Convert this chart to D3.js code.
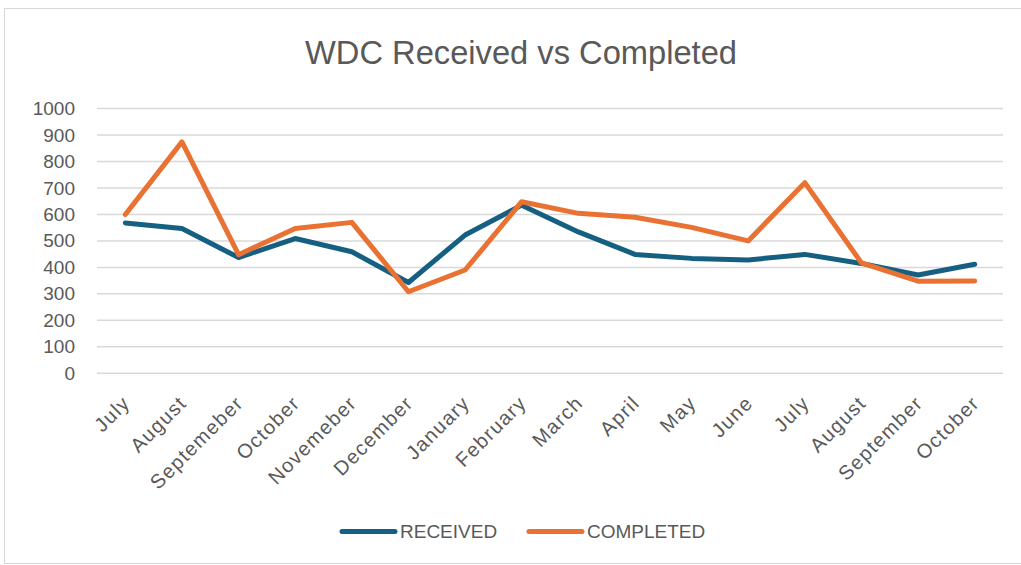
<!DOCTYPE html>
<html>
<head>
<meta charset="utf-8">
<script src="https://cdn.jsdelivr.net/npm/d3@7"></script>
<style>
  body { margin: 0; background: #fff; }
  text { font-family: "Liberation Sans", Arial, sans-serif; fill: #595959; }
</style>
</head>
<body>
<div id="chart"></div>
<script>
const months = ["July", "August", "Septemeber", "October", "Novemeber", "December", "January",
  "February", "March", "April", "May", "June", "July", "August", "September", "October"];
const received = [568, 547, 437, 509, 459, 343, 522, 635, 534, 449, 434, 428, 449, 415, 371, 412];
const completed = [600, 874, 448, 547, 570, 308, 390, 648, 604, 589, 551, 500, 720, 417, 348, 349];
const yTicks = [0, 100, 200, 300, 400, 500, 600, 700, 800, 900, 1000];

const width = 1021, height = 565;
const margin = { left: 97, right: 18, top: 108.5, bottom: 192 };

const svg = d3.select("#chart").append("svg")
  .attr("width", width)
  .attr("height", height);

svg.append("rect")
  .attr("x", 4.5).attr("y", 8.5)
  .attr("width", width).attr("height", height - 10)
  .attr("fill", "#fff")
  .attr("stroke", "#d9d9d9");

svg.append("text")
  .attr("x", 305).attr("y", 64)
  .attr("textLength", 432)
  .attr("lengthAdjust", "spacingAndGlyphs")
  .style("font-size", "34px")
  .text("WDC Received vs Completed");

const idx = months.map((m, i) => i);
const x = d3.scaleBand().domain(idx).range([margin.left, width - margin.right]);
const y = d3.scaleLinear().domain([0, 1000]).range([height - margin.bottom + 0.3, margin.top]);

// gridlines
svg.append("g").selectAll("line").data(yTicks).join("line")
  .attr("x1", margin.left).attr("x2", width - margin.right)
  .attr("y1", d => y(d)).attr("y2", d => y(d))
  .attr("stroke", "#d9d9d9").attr("stroke-width", 1.5);

// y axis labels
const yAxis = svg.append("g")
  .attr("transform", `translate(${margin.left - 22},0)`)
  .call(d3.axisLeft(y).tickValues(yTicks).tickFormat(d3.format("d")).tickSize(0).tickPadding(0));
yAxis.select(".domain").remove();
yAxis.selectAll("text")
  .style("font-size", "19px")
  .style("fill", "#595959")
  .style("font-family", "'Liberation Sans', sans-serif");

// x axis labels
const xAxis = svg.append("g")
  .attr("transform", `translate(0,${y(0)})`)
  .call(d3.axisBottom(x).tickFormat(i => months[i]).tickSize(0).tickPadding(0));
xAxis.select(".domain").remove();
xAxis.selectAll("text")
  .style("font-size", "20px")
  .style("letter-spacing", "1.3px")
  .style("fill", "#595959")
  .style("font-family", "'Liberation Sans', sans-serif")
  .attr("text-anchor", "end")
  .attr("y", 0)
  .attr("dy", 0)
  .attr("transform", "translate(6,31) rotate(-45)");

const line = d3.line()
  .x((d, i) => x(i) + x.bandwidth() / 2)
  .y(d => y(d));

const series = [
  { name: "RECEIVED", values: received, color: "#156082" },
  { name: "COMPLETED", values: completed, color: "#E97132" }
];

series.forEach(s => {
  svg.append("path")
    .datum(s.values)
    .attr("fill", "none")
    .attr("stroke", s.color)
    .attr("stroke-width", 5)
    .attr("stroke-linejoin", "round")
    .attr("stroke-linecap", "round")
    .attr("d", line);
});

// legend
const legendX = [342, 529];
const legend = svg.append("g");
series.forEach((s, i) => {
  legend.append("line")
    .attr("x1", legendX[i]).attr("x2", legendX[i] + 53)
    .attr("y1", 531.5).attr("y2", 531.5)
    .attr("stroke", s.color).attr("stroke-width", 5)
    .attr("stroke-linecap", "round");
  legend.append("text")
    .attr("x", legendX[i] + 58).attr("y", 531.5)
    .attr("dy", "0.35em")
    .style("font-size", "19px")
    .text(s.name);
});
</script>
</body>
</html>
